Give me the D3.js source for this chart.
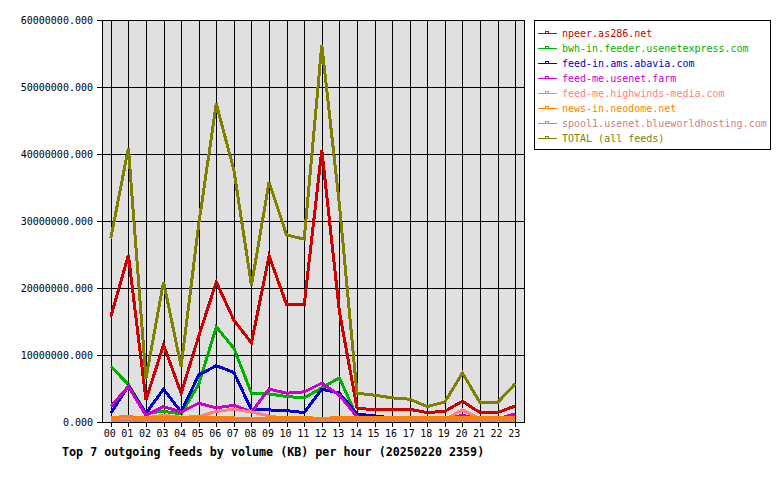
<!DOCTYPE html>
<html>
<head>
<meta charset="utf-8">
<script src="https://cdn.jsdelivr.net/npm/d3@7"></script>
<style>
  body { margin: 0; background: #fff; }
  text { font-family: "DejaVu Sans Mono", monospace; }
</style>
</head>
<body>
<div id="chart"></div>
<script>
// Hours on the x axis.
const hours = ['00', '01', '02', '03', '04', '05', '06', '07', '08', '09', '10', '11',
               '12', '13', '14', '15', '16', '17', '18', '19', '20', '21', '22', '23'];

// Volume per hour, in millions of KB.
const npeer = [15.7, 24.9, 3.3, 11.5, 4.3, 12.8, 20.9, 15.2, 11.8, 24.8, 17.5, 17.5,
               40.6, 16.5, 2.1, 1.8, 1.9, 1.9, 1.4, 1.6, 3.1, 1.4, 1.4, 2.4];
const bwh = [8.3, 5.6, 1.3, 1.6, 1.2, 5.6, 14.2, 11.0, 4.3, 4.2, 3.8, 3.6,
             5.1, 6.6, 0.8, 0.4, 0.3, 0.3, 0.3, 0.3, 0.4, 0.3, 0.3, 0.3];
const abavia = [1.3, 5.4, 1.3, 4.9, 1.5, 7.0, 8.4, 7.4, 1.8, 1.8, 1.7, 1.4,
                4.9, 4.3, 1.2, 0.9, 0.6, 0.4, 0.4, 0.5, 0.8, 0.3, 0.3, 0.4];
const farm = [2.3, 5.3, 1.0, 2.3, 1.5, 2.8, 2.1, 2.5, 1.5, 4.9, 4.3, 4.5,
              5.8, 4.0, 0.8, 0.4, 0.3, 0.3, 0.3, 0.4, 1.0, 0.4, 0.5, 1.2];
const highwinds = [0.4, 0.5, 0.6, 1.0, 0.7, 0.8, 1.6, 1.9, 1.5, 0.9, 0.5, 0.5,
                   0.5, 0.4, 0.3, 0.3, 0.3, 0.3, 0.3, 0.4, 1.8, 0.5, 0.4, 0.5];
const neodome = [0.7, 0.8, 0.6, 0.6, 0.6, 0.6, 0.6, 0.6, 0.5, 0.6, 0.7, 0.7,
                 0.5, 0.7, 0.7, 0.7, 0.7, 0.6, 0.6, 0.6, 0.6, 0.6, 0.6, 0.6];
const spool = [0.25, 0.25, 0.25, 0.25, 0.25, 0.25, 0.25, 0.25, 0.25, 0.25, 0.25, 0.25,
               0.25, 0.25, 0.25, 0.25, 0.25, 0.25, 0.25, 0.25, 0.25, 0.25, 0.25, 0.25];
const total = [27.4, 40.9, 6.5, 20.9, 8.3, 29.5, 47.5, 37.6, 20.4, 35.8, 27.9, 27.3,
               56.3, 32.5, 4.3, 4.0, 3.6, 3.4, 2.3, 3.0, 7.3, 2.9, 2.9, 5.7];

const feedNames = ['npeer.as286.net', 'bwh-in.feeder.usenetexpress.com', 'feed-in.ams.abavia.com',
                   'feed-me.usenet.farm', 'feed-me.highwinds-media.com', 'news-in.neodome.net',
                   'spool1.usenet.blueworldhosting.com', 'TOTAL (all feeds)'];
const feedValues = [npeer, bwh, abavia, farm, highwinds, neodome, spool, total];
const feedColors = ['#cc0000', '#00b000', '#0000cc', '#cc00cc', '#ff8080', '#ff8000', '#d08080', '#808000'];
const yTicks = [0, 10e6, 20e6, 30e6, 40e6, 50e6, 60e6];

const title = 'Top 7 outgoing feeds by volume (KB) per hour (20250220 2359)';

// Chart dimensions.
const width = 780, height = 480;
const plot = {left: 102, right: 524, top: 20, bottom: 422};

const svg = d3.select('#chart')
    .append('svg')
        .attr('width', width)
        .attr('height', height);

// Scales.
const x = d3.scaleBand()
    .domain(hours)
    .range([plot.left, plot.right]);
const cx = h => x(h) + x.bandwidth() / 2;
const y = d3.scaleLinear()
    .domain([0, 60e6])
    .range([plot.bottom, plot.top]);

// Plot background.
svg.append('rect')
    .attr('x', plot.left)
    .attr('y', plot.top)
    .attr('width', plot.right - plot.left)
    .attr('height', plot.bottom - plot.top)
    .attr('fill', '#e0e0e0');

// Grid lines.
svg.append('g')
    .selectAll('line')
    .data(hours)
    .join('line')
        .attr('x1', d => Math.round(cx(d)) + 0.5)
        .attr('x2', d => Math.round(cx(d)) + 0.5)
        .attr('y1', plot.top)
        .attr('y2', plot.bottom + 5)
        .attr('stroke', '#000');
svg.append('g')
    .selectAll('line')
    .data(yTicks)
    .join('line')
        .attr('x1', plot.left - 5)
        .attr('x2', plot.right)
        .attr('y1', d => Math.round(y(d)) + 0.5)
        .attr('y2', d => Math.round(y(d)) + 0.5)
        .attr('stroke', '#000');

// Frame.
svg.append('rect')
    .attr('x', plot.left + 0.5)
    .attr('y', plot.top + 0.5)
    .attr('width', plot.right - plot.left)
    .attr('height', plot.bottom - plot.top)
    .attr('fill', 'none')
    .attr('stroke', '#000');

// Y axis labels.
svg.append('g')
    .selectAll('text')
    .data(yTicks)
    .join('text')
        .attr('x', 93)
        .attr('y', d => y(d) + 4)
        .attr('text-anchor', 'end')
        .style('font-size', '10px')
        .text(d => d3.format('.3f')(d));

// X axis labels.
svg.append('g')
    .selectAll('text')
    .data(hours)
    .join('text')
        .attr('x', d => cx(d) - 1)
        .attr('y', 437)
        .attr('text-anchor', 'middle')
        .style('font-size', '10px')
        .text(d => d);

// Lines.
const line = d3.line()
    .x((d, i) => cx(hours[i]))
    .y(d => y(d * 1e6));
svg.append('g')
    .selectAll('path')
    .data(feedValues)
    .join('path')
        .attr('d', d => line(d))
        .attr('fill', 'none')
        .attr('stroke', (d, i) => feedColors[i])
        .attr('stroke-width', 3)
        .attr('stroke-linejoin', 'miter')
        .style('shape-rendering', 'crispEdges');

// Title.
svg.append('text')
    .attr('x', 62)
    .attr('y', 456)
    .style('font-size', '11.7px')
    .style('font-weight', 'bold')
    .text(title);

// Legend.
const legend = svg.append('g');
legend.append('rect')
    .attr('x', 534.5)
    .attr('y', 20.5)
    .attr('width', 236)
    .attr('height', 129)
    .attr('fill', '#fff')
    .attr('stroke', '#000');
const items = legend.selectAll('g.item')
    .data(feedNames)
    .join('g')
        .attr('class', 'item')
        .attr('transform', (d, i) => `translate(0, ${33 + i * 15})`);
items.append('line')
    .attr('x1', 538)
    .attr('x2', 557)
    .attr('y1', 0.5)
    .attr('y2', 0.5)
    .attr('stroke', (d, i) => feedColors[i]);
items.append('rect')
    .attr('x', 545.5)
    .attr('y', -1.5)
    .attr('width', 3)
    .attr('height', 2)
    .attr('fill', '#fff')
    .attr('stroke', (d, i) => feedColors[i]);
items.append('text')
    .attr('x', 562)
    .attr('y', 4)
    .attr('fill', (d, i) => feedColors[i])
    .style('font-size', '10px')
    .text(d => d);
</script>
</body>
</html>
